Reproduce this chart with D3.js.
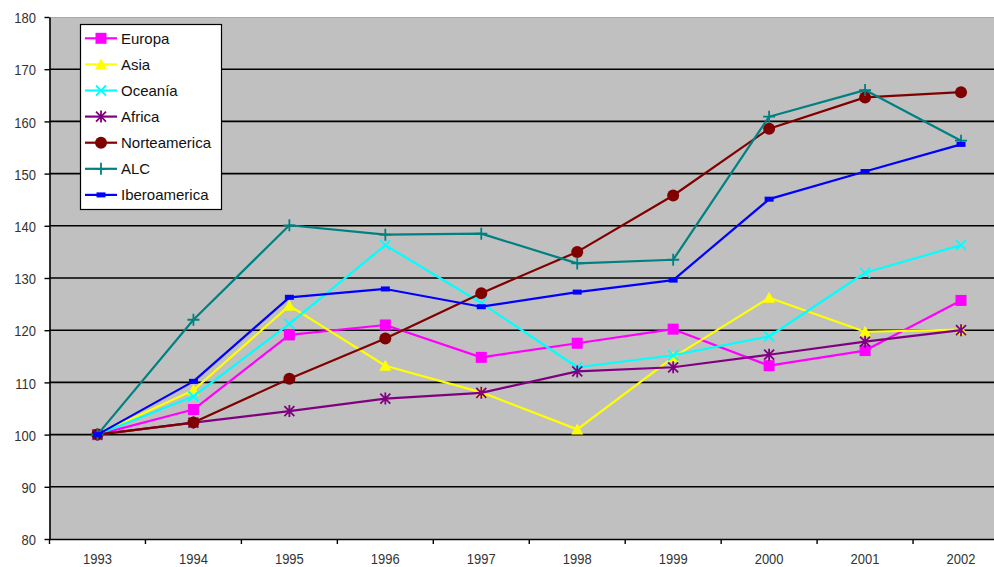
<!DOCTYPE html>
<html>
<head>
<meta charset="utf-8">
<script src="https://cdn.jsdelivr.net/npm/d3@7"></script>
<style>
  html, body { margin: 0; padding: 0; background: #fff; }
  svg { display: block; font-family: "Liberation Sans", Arial, sans-serif; }
</style>
</head>
<body>
<svg id="chart" width="994" height="567"></svg>
<script>
// Index series (1993 = 100) by region
const years = ["1993","1994","1995","1996","1997","1998","1999","2000","2001","2002"];
const europa       = [100, 104.8, 119.1, 121.0, 114.8, 117.5, 120.2, 113.2, 116.1, 125.7];
const asia         = [100, 108.5, 124.7, 113.2, 108.1, 101.0, 114.8, 126.2, 119.7, 120.1];
const oceania      = [100, 107.3, 121.2, 136.3, 125.2, 112.9, 115.2, 118.8, 131.0, 136.3];
const africa       = [100, 102.3, 104.5, 106.9, 108.0, 112.1, 112.9, 115.3, 117.8, 120.0];
const norteamerica = [100, 102.3, 110.7, 118.4, 127.1, 135.0, 145.8, 158.6, 164.6, 165.6];
const alc          = [100, 122.0, 140.1, 138.3, 138.5, 132.8, 133.5, 160.9, 166.0, 156.3];
const iberoamerica = [100, 110.2, 126.3, 127.9, 124.5, 127.3, 129.6, 145.1, 150.4, 155.6];
const yTicks = [80, 90, 100, 110, 120, 130, 140, 150, 160, 170, 180];

const series = [
  { name: "Europa",       values: europa,       color: "#ff00ff", marker: "square" },
  { name: "Asia",         values: asia,         color: "#ffff00", marker: "triangle" },
  { name: "Oceanía",      values: oceania,      color: "#00ffff", marker: "x" },
  { name: "Africa",       values: africa,       color: "#800080", marker: "star" },
  { name: "Norteamerica", values: norteamerica, color: "#800000", marker: "circle" },
  { name: "ALC",          values: alc,          color: "#008080", marker: "plus" },
  { name: "Iberoamerica", values: iberoamerica, color: "#0000ff", marker: "dash" }
];

const svg = d3.select("#chart");
const W = 994, H = 567;
const plotLeft = 49.5, plotTop = 17, plotBottom = 539;
const band = 95.95;
const plotRight = plotLeft + band * years.length;   // plot area runs past the right edge

const x = d3.scaleBand().domain(years).range([plotLeft, plotRight]).padding(0);
const cx = d => x(d) + x.bandwidth() / 2;
const y = d3.scaleLinear().domain([80, 180]).range([plotBottom, plotTop]);

svg.append("clipPath").attr("id", "clip")
  .append("rect").attr("x", 0).attr("y", 0).attr("width", W).attr("height", H);

const root = svg.append("g").attr("clip-path", "url(#clip)");

// plot area
root.append("rect")
  .attr("x", plotLeft).attr("y", plotTop)
  .attr("width", plotRight - plotLeft).attr("height", plotBottom - plotTop)
  .attr("fill", "#c0c0c0");
root.append("line")
  .attr("x1", plotLeft).attr("x2", plotRight).attr("y1", plotTop + 0.5).attr("y2", plotTop + 0.5)
  .attr("stroke", "#a8a8a8").attr("stroke-width", 1);

// horizontal gridlines
root.append("g").selectAll("line")
  .data(yTicks.filter(t => t > 80 && t < 180))
  .join("line")
  .attr("x1", plotLeft).attr("x2", plotRight)
  .attr("y1", d => y(d)).attr("y2", d => y(d))
  .attr("stroke", "#000").attr("stroke-width", 1.6);

// y axis
const yAxis = root.append("g")
  .attr("transform", `translate(${plotLeft},0)`)
  .call(d3.axisLeft(y).tickValues(yTicks).tickSize(5).tickSizeOuter(0).tickFormat(d3.format("d")));
yAxis.select(".domain").attr("stroke", "#000").attr("stroke-width", 1.6);
yAxis.selectAll(".tick line").attr("stroke", "#000").attr("stroke-width", 1.4);
yAxis.selectAll(".tick text")
  .attr("x", null).attr("dy", null).attr("y", null)
  .attr("transform", "translate(-13.5,5.7) scale(1,1.15)")
  .attr("text-anchor", "end")
  .attr("font-size", 13).attr("fill", "#333");

// x axis with tick marks on category boundaries
const xAxis = root.append("g")
  .attr("transform", `translate(0,${plotBottom})`)
  .call(d3.axisBottom(x).tickSize(0).tickSizeOuter(0));
xAxis.select(".domain").attr("stroke", "#000").attr("stroke-width", 1.6);
xAxis.selectAll(".tick text")
  .attr("y", null).attr("dy", null)
  .attr("transform", "translate(0,25) scale(1,1.15)")
  .attr("font-size", 13).attr("fill", "#333");
xAxis.append("g").selectAll("line")
  .data(years)
  .join("line")
  .attr("x1", d => x(d)).attr("x2", d => x(d))
  .attr("y1", 0).attr("y2", 5)
  .attr("stroke", "#000").attr("stroke-width", 1.4);

// marker drawing
function drawMarker(g, type, color) {
  const s = 5;
  switch (type) {
    case "square":
      g.append("rect").attr("x", -5.5).attr("y", -5.5).attr("width", 11).attr("height", 11).attr("fill", color);
      break;
    case "triangle":
      g.append("path").attr("d", "M0,-6L6,5L-6,5Z").attr("fill", color);
      break;
    case "x":
      g.append("path").attr("d", `M${-s},${-s}L${s},${s}M${-s},${s}L${s},${-s}`)
        .attr("stroke", color).attr("stroke-width", 1.8).attr("fill", "none");
      break;
    case "star":
      g.append("path").attr("d", `M${-s},${-s}L${s},${s}M${-s},${s}L${s},${-s}M0,${-s - 1}L0,${s + 1}`)
        .attr("stroke", color).attr("stroke-width", 1.8).attr("fill", "none");
      break;
    case "circle":
      g.append("circle").attr("r", 6).attr("fill", color);
      break;
    case "plus":
      g.append("path").attr("d", `M0,${-s - 1}L0,${s + 1}M${-s - 1},0L${s + 1},0`)
        .attr("stroke", color).attr("stroke-width", 1.8).attr("fill", "none");
      break;
    case "dash":
      g.append("rect").attr("x", -4.5).attr("y", -2.5).attr("width", 9).attr("height", 5).attr("fill", color);
      break;
  }
}

const line = d3.line().x((d, i) => cx(years[i])).y(d => y(d));

const seriesG = root.append("g");
series.forEach(s => {
  const g = seriesG.append("g");
  g.append("path")
    .attr("d", line(s.values))
    .attr("fill", "none")
    .attr("stroke", s.color)
    .attr("stroke-width", 2.2)
    .attr("stroke-linejoin", "round");
  g.selectAll("g.pt")
    .data(s.values)
    .join("g")
    .attr("class", "pt")
    .attr("transform", (d, i) => `translate(${cx(years[i])},${y(d)})`)
    .each(function() { drawMarker(d3.select(this), s.marker, s.color); });
});

// legend
const lg = svg.append("g");
lg.append("rect")
  .attr("x", 80.5).attr("y", 24.5).attr("width", 141).attr("height", 185)
  .attr("fill", "#fff").attr("stroke", "#000").attr("stroke-width", 1.2);
series.forEach((s, i) => {
  const cy = 38.3 + i * 26.1;
  const item = lg.append("g").attr("transform", `translate(0,${cy})`);
  item.append("line")
    .attr("x1", 85).attr("x2", 117).attr("y1", 0).attr("y2", 0)
    .attr("stroke", s.color).attr("stroke-width", 2.2);
  drawMarker(item.append("g").attr("transform", "translate(101,0)"), s.marker, s.color);
  item.append("text")
    .attr("x", 121).attr("y", 5.3)
    .attr("font-size", 15).attr("fill", "#111")
    .text(s.name);
});
</script>
</body>
</html>
